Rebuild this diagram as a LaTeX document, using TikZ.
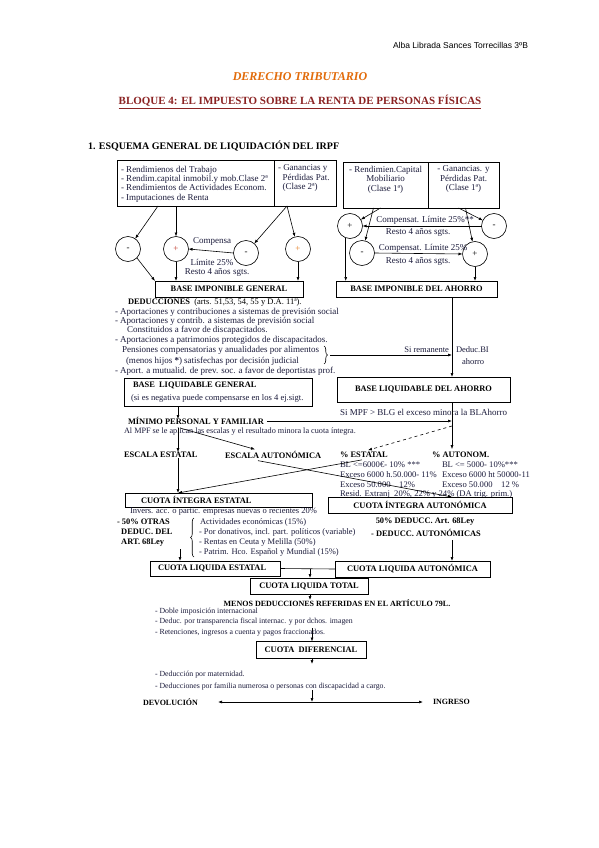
\documentclass[tikz,border=0pt]{standalone}
\usepackage{fontspec}
\setmainfont{Liberation Serif}
\newfontfamily\hdrfont{Liberation Sans}
\usetikzlibrary{arrows.meta,calc,decorations.pathreplacing}
\definecolor{orangeT}{HTML}{E26B0A}
\definecolor{redT}{HTML}{8B2323}
\definecolor{txtc}{HTML}{1C1C3C}
\definecolor{plusred}{HTML}{C0392B}
\definecolor{plusor}{HTML}{E67E22}
\newcommand\fsL{\fontsize{9}{9.4}\selectfont}
\newcommand\fsM{\fontsize{8.5}{9.5}\selectfont}
\newcommand\fsR{\fontsize{8.6}{9.5}\selectfont}
\newcommand\fsS{\fontsize{7.8}{9}\selectfont}
\newcommand\fsB{\fontsize{8.4}{10}\selectfont\bfseries}
\newcommand\fsBs{\fontsize{8}{9.5}\selectfont\bfseries}
\begin{document}
\begin{tikzpicture}[x=1pt,y=-1pt,
  every node/.style={inner sep=0pt,outer sep=0pt},
  arr/.style={-{Latex[length=4pt,width=3pt]},line width=0.6pt},
  ln/.style={line width=0.6pt},
  bx/.style={draw,line width=0.8pt,fill=white},
  circ/.style={draw,circle,minimum size=25pt,line width=0.6pt,font=\fsL},
  lst/.style={anchor=west,font=\fsL,text=txtc},
  lstm/.style={anchor=west,font=\fsM,text=txtc},
  lstr/.style={anchor=west,font=\fsR,text=txtc},
  lsts/.style={anchor=west,font=\fsS,text=txtc},
  brc/.style={decorate,decoration={brace,amplitude=3.5pt},line width=0.6pt},
]
\useasboundingbox[fill=white] (0,0) rectangle (599,848);

% header and titles
\node[anchor=east,font=\hdrfont\fontsize{8.5}{10}\selectfont] (hdr) at (528,45) {Alba Librada Sances Torrecillas 3ºB};
\node[font=\fontsize{12}{14}\selectfont\bfseries\itshape,text=orangeT] (t1) at (300,77) {DERECHO TRIBUTARIO};
\node[font=\fontsize{11}{13}\selectfont\bfseries,text=redT] (t2) at (300,102) {\underline{BLOQUE 4: EL IMPUESTO SOBRE LA RENTA DE PERSONAS FÍSICAS}};
\node[anchor=west,font=\fontsize{10}{12}\selectfont\bfseries] (t3) at (88,146) {1. ESQUEMA GENERAL DE LIQUIDACIÓN DEL IRPF};

% top boxes
\node[bx,minimum width=157pt,minimum height=46pt] (topLa) at (195.5,183) {};
\node[bx,minimum width=62pt,minimum height=46pt] (topLb) at (305,183) {};
\node[lst,align=left] (topLaT) at (121,184) {- Rendimienos del Trabajo\\- Rendim.capital inmobil.y mob.Clase 2ª\\- Rendimientos de Actividades Econom.\\- Imputaciones de Renta};
\node[lst,align=left,anchor=north west] (topLbT) at (278,165) {- Ganancias y\\\ \ Pérdidas Pat.\\\ \ (Clase 2ª)};
\node[bx,minimum width=85pt,minimum height=46pt] (topRa) at (385.5,185) {};
\node[bx,minimum width=71pt,minimum height=46pt] (topRb) at (463.5,185) {};
\node[font=\fsL,text=txtc,align=center,anchor=north] (topRaT) at (385.5,166) {- Rendimien.Capital\\Mobiliario\\(Clase 1ª)};
\node[font=\fsL,text=txtc,align=center,anchor=north] (topRbT) at (463.5,166) {- Ganancias. y\\Pérdidas Pat.\\(Clase 1ª)};

% circles
\node[circ] (cL1) at (128,249) {-};
\node[circ,text=plusred] (cL2) at (176,249) {+};
\node[circ] (cL3) at (246,253) {-};
\node[circ,text=plusor] (cL4) at (298,249) {+};
\node[circ] (cR1) at (350,226) {+};
\node[circ] (cR2) at (494,226) {-};
\node[circ] (cR3) at (362,253) {-};
\node[circ] (cR4) at (475,254) {+};

\draw[arr] ($(topLa.south west)+(41,0)$) -- (cL1);
\draw[arr] (topLa.south -| cL2) -- (cL2);
\draw[arr] ($(topLb.south)+(-18,0)$) -- (cL3);
\draw[arr] ($(topLb.south)+(-18,0)$) -- (cL4);
\draw[arr] ($(topRa.south)+(-5,0)$) -- (cR1);
\draw[arr] ($(topRa.south)+(-12,0)$) -- (cR3);
\draw[arr] ($(topRb.south)+(-5,0)$) -- (cR2);
\draw[arr] ($(topRb.south)+(2,0)$) -- (cR4);

\draw[arr] (cL3.west) -- (cL2.east);
\node[font=\fsL,text=txtc] (compA) at (212,241) {Compensa};
\node[font=\fsL,text=txtc] (limA) at (212,262) {Límite 25\%};
\node[font=\fsL,text=txtc] (restA) at (217,272) {Resto 4 años sgts.};

\draw[arr] (cR2.west) -- (cR1.east);
\node[font=\fsL,text=txtc] (compB) at (425,220) {Compensat. Límite 25\%**};
\node[font=\fsL,text=txtc] (restB) at (418,232) {Resto 4 años sgts.};
\draw[arr] (cR3.east) -- (cR4.west);
\node[font=\fsL,text=txtc] (compC) at (423,248) {Compensat. Límite 25\%};
\node[font=\fsL,text=txtc] (restC) at (418,261) {Resto 4 años sgts.};

% bases imponibles
\node[bx,minimum width=148pt,minimum height=16pt,font=\fsB] (BIG) at (229,289) {BASE IMPONIBLE GENERAL};
\node[bx,minimum width=161pt,minimum height=16pt,font=\fsB] (BIA) at (416.5,289) {BASE IMPONIBLE DEL AHORRO};
\draw[arr] (cL1.south east) -- (BIG.north west);
\draw[arr] (cL2.south) -- (cL2.south |- BIG.north);
\draw[arr] (cL4.south) -- (cL4.south |- BIG.north);
\draw[arr] (cR1.250) -- (cR1.250 |- BIA.north);
\draw[arr] (cR4.south) -- (cR4.south |- BIA.north);

% deducciones
\node[anchor=west] (dedT) at (128,302) {\fsB DEDUCCIONES\ \ {\fsM\mdseries (arts. 51,53, 54, 55 y D.A. 11ª).}};
\node[lst] (ded1) at (115,312) {- Aportaciones y contribuciones a sistemas de previsión social};
\node[lst] (ded2) at (115,321) {- Aportaciones y contrib. a sistemas de previsión social};
\node[lst] (ded3) at (127,330) {Constituidos a favor de discapacitados.};
\node[lst] (ded4) at (115,340) {- Aportaciones a patrimonios protegidos de discapacitados.};
\node[lst] (ded5) at (122,350) {Pensiones compensatorias y anualidades por alimentos};
\node[lst] (ded6) at (126,361) {(menos hijos \textbf{*}) satisfechas por decisión judicial};
\node[lst] (ded7) at (115,371) {- Aport. a mutualid. de prev. soc. a favor de deportistas prof.};
\draw[brc] (324,346) -- (324,364);
\coordinate (braceTip) at (330,355);

% bases liquidables
\node[bx,minimum width=188pt,minimum height=28pt] (BLG) at (218,392) {};
\node[anchor=west,font=\fsB] (blgT) at (133,385) {BASE\ \ LIQUIDABLE GENERAL};
\node[anchor=west,font=\fsR,text=txtc] (blgS) at (131,398) {(si es negativa puede compensarse en los 4 ej.sigt.};
\node[bx,minimum width=173pt,minimum height=25pt,font=\fsB] (BLA) at (423.5,389.5) {BASE LIQUIDABLE DEL AHORRO};

\coordinate (aTop) at (452,297);
\draw[arr] (aTop) -- (aTop |- BLA.north);
\draw[arr] (braceTip) -- (braceTip -| aTop);
\node[anchor=east,font=\fsM,text=txtc] (siRem) at (449,350) {Si remanente};
\node[anchor=west,font=\fsM,text=txtc] (dedBI) at (456,350) {Deduc.BI};
\node[anchor=west,font=\fsM,text=txtc] (ahorro) at (462,362) {ahorro};

\node[anchor=west,font=\fsL,text=txtc] (siMPF) at (340,412) {Si MPF > BLG el exceso minora la BLAhorro};

% minimo personal
\node[anchor=west,font=\fsB] (minT) at (128,421) {MÍNIMO PERSONAL Y FAMILIAR};
\coordinate (mA) at (178,419);
\draw[arr] (BLG.south -| mA) -- (mA);
\draw[arr] ([xshift=3pt]minT.east) -- (minT.east -| aTop);
\node[anchor=west,font=\fontsize{8.2}{9}\selectfont,text=txtc] (alMPF) at (124,432) {Al MPF se le aplican las escalas y el resultado minora la cuota íntegra.};

\node[anchor=west,font=\fsB] (escE) at (124,455) {ESCALA ESTATAL};
\node[anchor=west,font=\fsB] (escA) at (225,455) {ESCALA AUTONÓMICA};
\node[anchor=west,font=\fsB] (pEst) at (340,455) {\% ESTATAL};
\node[anchor=west,font=\fsB] (pAut) at (432,455) {\% AUTONOM.};

\coordinate (mB) at (178,428);
\draw[arr] (mB) -- (mB |- escE.north);
\draw[arr] ([xshift=2pt]mB) -- ($(escA.north west)+(30,-2)$);
\draw[arr] (BLA.south -| aTop) -- ($(pAut.north -| aTop)+(0,-3)$);
\coordinate (dashStart) at (452,426);
\draw[arr,dashed] (dashStart) -- ($(pEst.north west)+(28,-2)$);

\node[lstr] (r1) at (340,465) {BL <=6000€- 10\% ***};
\node[lstr] (r2) at (340,475) {Exceso 6000 h.50.000- 11\%};
\node[lstr] (r3) at (340,485) {Exceso 50.000\quad 12\%};
\node[lstr] (r4) at (442,465) {BL <= 5000- 10\%***};
\node[lstr] (r5) at (442,475) {Exceso 6000 ht 50000-11};
\node[lstr] (r6) at (442,485) {Exceso 50.000\quad 12 \%};
\node[lstr] (r7) at (340,494) {Resid. Extranj\ \ 20\%, 22\% y 24\% (DA trig. prim.)};

% cuotas integras
\node[bx,minimum width=187pt,minimum height=14pt] (CIE) at (218.5,500) {};
\node[anchor=west,font=\fsB] (cieT) at (141,500) {CUOTA ÍNTEGRA ESTATAL};
\node[bx,minimum width=184pt,minimum height=16pt,font=\fsB] (CIA) at (420,505) {CUOTA ÍNTEGRA AUTONÓMICA};

\draw[arr] (escE.south -| mB) -- (CIE.north -| mB);
\draw[arr] ($(escA.south west)+(33,2)$) -- ($(CIA.north)+(32,0)$);
\draw[arr] ($(pEst.south west)+(22,2)$) -- (CIE.north -| mB);

% deducciones estatales
\node[lstm] (inv) at (130,512) {Invers. acc. o partic. empresas nuevas o recientes 20\%};
\node[anchor=west,font=\fsB,align=left] (otr) at (117,533) {- 50\% OTRAS\\\ \ DEDUC. DEL\\\ \ ART. 68Ley};
\draw[brc,decoration={mirror}] (194,518) -- (194,557);
\node[lstm] (ae1) at (200,522) {Actividades económicas (15\%)};
\node[lstm] (ae2) at (199,532) {- Por donativos, incl. part. políticos (variable)};
\node[lstm] (ae3) at (199,542) {- Rentas en Ceuta y Melilla (50\%)};
\node[lstm] (ae4) at (199,552) {- Patrim. Hco. Español y Mundial (15\%)};

\node[font=\fsB] (d50) at (425,522) {50\% DEDUCC. Art. 68Ley};
\node[font=\fsB] (dAut) at (426,533) {- DEDUCC. AUTONÓMICAS};

% cuotas liquidas
\node[bx,minimum width=130pt,minimum height=15pt] (CLE) at (215,568.5) {};
\node[anchor=west,font=\fsB] (cleT) at (158,568.5) {CUOTA LIQUIDA ESTATAL};
\node[bx,minimum width=155pt,minimum height=16pt,font=\fsB] (CLA) at (412.5,569) {CUOTA LIQUIDA AUTONÓMICA};
\node[bx,minimum width=118pt,minimum height=16pt,font=\fsB] (CLT) at (309,586) {CUOTA LIQUIDA TOTAL};

\coordinate (cleA) at (180,549);
\draw[arr] (cleA) -- (cleA |- CLE.north);
\coordinate (claA) at (452,540);
\draw[arr] (claA) -- (claA |- CLA.north);
\draw[ln] (CLE.east) -- (CLA.west);
\coordinate (tj) at (310,569);
\draw[arr] (tj) -- (tj |- CLT.north);

% menos deducciones
\coordinate (mdA) at (310,600);
\draw[arr] (CLT.south -| mdA) -- (mdA);
\node[font=\fsBs] (menos) at (337,603) {MENOS DEDUCCIONES REFERIDAS EN EL ARTÍCULO 79L.};
\coordinate (cdA) at (312,628);
\node[bx,minimum width=110pt,minimum height=17pt,font=\fsB] (CD) at (311,650) {CUOTA\ \ DIFERENCIAL};
\draw[arr] (cdA) -- (cdA |- CD.north);
\node[lsts] (dl1) at (155,612) {- Doble imposición internacional};
\node[lsts] (dl2) at (155,622) {- Deduc. por transparencia fiscal internac. y por dchos. imagen};
\node[lsts] (dl3) at (155,633) {- Retenciones, ingresos a cuenta y pagos fraccionados.};

% final
\coordinate (fbA) at (312,664);
\draw[arr] (CD.south -| fbA) -- (fbA);
\node[lsts] (fm1) at (155,675) {- Deducción por maternidad.};
\node[lsts] (fm2) at (155,687) {- Deducciones por familia numerosa o personas con discapacidad a cargo.};
\coordinate (fbB) at (312,690);
\coordinate (hC) at (312,702);
\coordinate (hL) at (218,702);
\coordinate (hR) at (423,702);
\draw[arr] (fbB) -- (hC);
\draw[{Latex[length=4pt,width=3pt]}-{Latex[length=4pt,width=3pt]},ln] (hL) -- (hR);
\node[anchor=east,font=\fsBs] (dev) at (198,702) {DEVOLUCIÓN};
\node[anchor=west,font=\fsBs] (ing) at (433,702) {INGRESO};
\end{tikzpicture}
\end{document}
